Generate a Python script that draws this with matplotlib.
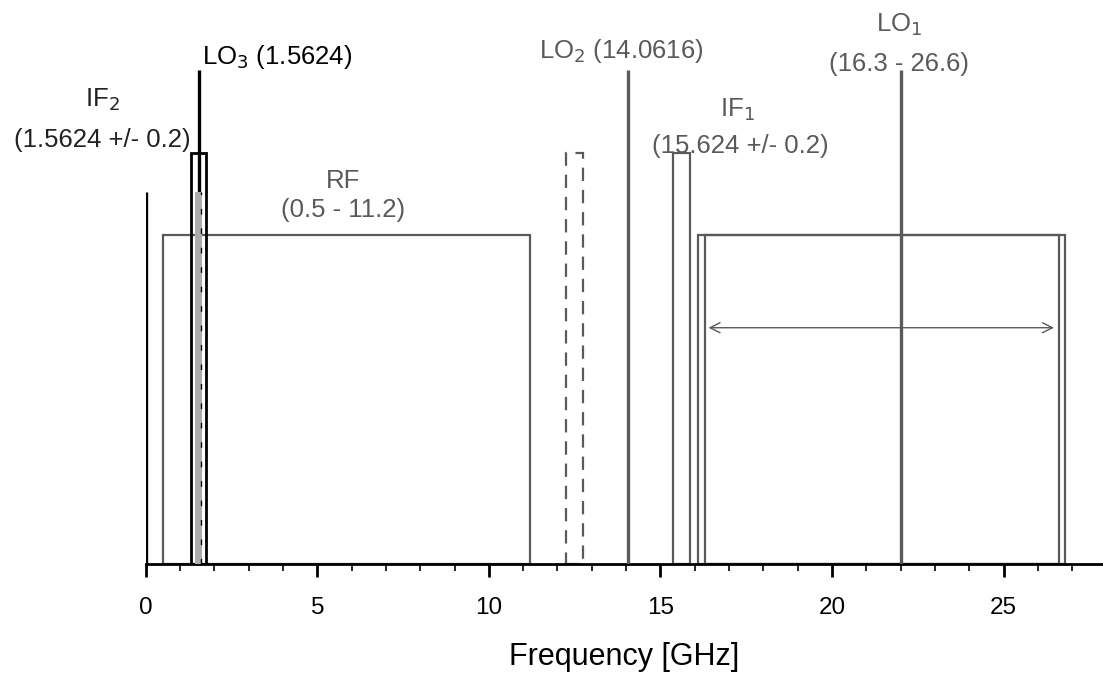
import matplotlib.pyplot as plt
from matplotlib.patches import Rectangle

plt.rcParams['font.family'] = ['Liberation Sans', 'DejaVu Sans']

# bands (GHz) and their heights (arbitrary units)
rf_band = (0.5, 11.2)
if2_band = (1.33, 1.77)
if1_band = (15.37, 15.87)
image_band = (12.24, 12.73)
lo1_outer = (16.1, 26.8)
lo1_inner = (16.3, 26.6)
lo3_bar = (1.45, 1.65)

rf_height = 1.0
if_height = 1.25
lo_height = 1.5
zero_height = 1.13

lo3_freq = 1.5624
lo2_freq = 14.0616
lo1_freq = 22.0
lo3_dash_freq = 1.6
arrow_y = 0.718

GRAY = '#5a5a5a'

fig = plt.figure(figsize=(11.03, 6.79), dpi=100)
ax = fig.add_axes([0.1321, 0.1694, 0.868, 0.8306])
ax.set_xlim(0, 27.9)
ax.set_ylim(0, 1.714)


def band(lims, h, color, lw=1.6, ls='-', z=2):
    ax.add_patch(Rectangle((lims[0], 0), lims[1] - lims[0], h, fill=False,
                           edgecolor=color, lw=lw, ls=ls, zorder=z))


band(rf_band, rf_height, GRAY)
band(lo1_outer, rf_height, GRAY)
band(lo1_inner, rf_height, GRAY)
band(if1_band, if_height, GRAY)
band(image_band, if_height, GRAY, ls=(0, (6, 4)))
band(if2_band, if_height, 'black', lw=2.0, z=3)

# LO lines
ax.vlines(0.0, 0, zero_height, color='black', lw=2.4, zorder=3)
ax.vlines(lo3_freq, 0, lo_height, color='black', lw=2.4, zorder=3)
ax.vlines(lo2_freq, 0, lo_height, color=GRAY, lw=2.4, zorder=3)
ax.vlines(lo1_freq, 0, lo_height, color=GRAY, lw=2.4, zorder=3)

# gray marker near LO3
ax.add_patch(Rectangle((lo3_bar[0], 0), lo3_bar[1] - lo3_bar[0], zero_height,
                       facecolor='#adadad', edgecolor='none', zorder=4))
ax.vlines(lo3_dash_freq, 0, zero_height, color='black', lw=1.0,
          linestyles=(0, (4, 10)), zorder=5)

# LO1 sweep arrow
ax.annotate('', xy=(lo1_inner[1] - 0.05, arrow_y), xytext=(lo1_inner[0] + 0.02, arrow_y),
            arrowprops=dict(arrowstyle='<->', color=GRAY, lw=1.0,
                            mutation_scale=18), zorder=4)

# labels
fs = 18.5
ax.text(-1.25, 1.41, 'IF$_2$', ha='center', va='center', fontsize=fs, color='#222222')
ax.text(-1.25, 1.29, '(1.5624 +/- 0.2)', ha='center', va='center', fontsize=fs, color='#222222')
ax.text(1.63, 1.54, 'LO$_3$ (1.5624)', ha='left', va='center', fontsize=fs, color='black')
ax.text(5.75, 1.165, 'RF', ha='center', va='center', fontsize=fs, color=GRAY)
ax.text(5.75, 1.075, '(0.5 - 11.2)', ha='center', va='center', fontsize=fs, color=GRAY)
ax.text(13.85, 1.56, 'LO$_2$ (14.0616)', ha='center', va='center', fontsize=fs, color=GRAY)
ax.text(17.25, 1.38, 'IF$_1$', ha='center', va='center', fontsize=fs, color=GRAY)
ax.text(17.33, 1.27, '(15.624 +/- 0.2)', ha='center', va='center', fontsize=fs, color=GRAY)
ax.text(21.95, 1.64, 'LO$_1$', ha='center', va='center', fontsize=fs, color=GRAY)
ax.text(21.95, 1.518, '(16.3 - 26.6)', ha='center', va='center', fontsize=fs, color=GRAY)

# axes styling
for s in ['left', 'right', 'top']:
    ax.spines[s].set_visible(False)
ax.spines['bottom'].set_linewidth(2.0)
ax.set_yticks([])
ax.set_xticks([0, 5, 10, 15, 20, 25])
ax.set_xticks(range(0, 28), minor=True)
ax.tick_params(axis='x', which='major', length=9, width=2, labelsize=17.5, pad=15)
ax.tick_params(axis='x', which='minor', length=5, width=1.2)
ax.set_xlabel('Frequency [GHz]', fontsize=22, labelpad=16)
ax.patch.set_visible(False)

fig.savefig('out.png', dpi=100)
